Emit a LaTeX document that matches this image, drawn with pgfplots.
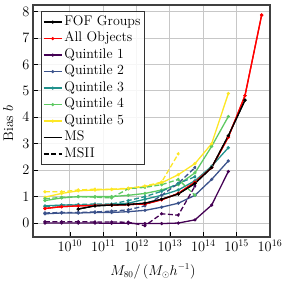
\documentclass[border=0pt]{standalone}
\usepackage{pgfplots}
\usepackage{pgfplotstable}
\pgfplotsset{compat=1.18}
\definecolor{vq1}{HTML}{440154}
\definecolor{vq2}{HTML}{3B528B}
\definecolor{vq3}{HTML}{21918C}
\definecolor{vq4}{HTML}{5EC962}
\definecolor{vq5}{HTML}{FDE725}
\pgfplotstableread{
m        all   fof   q1    q2    q3    q4    q5
1.778e9  0.55  nan   0.00  0.35  0.65  0.85  0.98
5.623e9  0.62  nan   0.00  0.38  0.68  0.95  1.12
1.778e10 0.65  0.53  0.00  0.38  0.68  1.00  1.22
5.623e10 0.67  0.65  0.00  0.40  0.68  1.00  1.25
1.778e11 0.68  0.68  -0.01 0.40  0.70  1.00  1.27
5.623e11 0.70  0.70  -0.01 0.43  0.75  1.05  1.30
1.778e12 0.72  0.75  -0.02 0.48  0.90  1.12  1.38
5.623e12 0.88  0.90  -0.02 0.60  1.05  1.25  1.52
1.778e13 1.12  1.10  0.00  0.75  1.25  1.45  1.83
5.623e13 1.55  1.50  0.12  1.05  1.60  1.90  2.25
1.778e14 2.10  2.10  0.68  1.65  2.15  2.90  3.00
5.623e14 3.25  3.30  1.95  2.35  2.85  4.03  4.90
1.778e15 4.82  4.65  nan   nan   nan   nan   nan
5.623e15 7.87  nan   nan   nan   nan   nan   nan
}\ms
\pgfplotstableread{
m        q1    q2    q3    q4    q5
1.778e9  0.05  0.38  0.62  0.92  1.18
5.623e9  0.05  0.40  0.68  0.97  1.18
1.778e10 0.05  0.40  0.70  1.00  1.25
5.623e10 0.04  0.42  0.72  0.98  1.28
1.778e11 0.04  0.45  0.72  0.95  1.28
5.623e11 0.03  0.50  0.85  1.30  1.32
1.778e12 -0.10 0.65  1.00  1.35  1.40
5.623e12 0.35  1.05  1.20  1.45  1.55
1.778e13 0.30  1.50  1.50  1.65  2.62
5.623e13 1.40  2.10  1.75  1.05  nan
}\msii
\begin{document}
\begin{tikzpicture}
\begin{axis}[
  scale only axis, width=237bp, height=232bp,
  xmode=log, xmin=7.76e8, xmax=1e16, ymin=-0.53, ymax=8.25,
  xtick={1e10,1e11,1e12,1e13,1e14,1e15,1e16},
  ytick={0,1,2,3,4,5,6,7,8},
  xminorticks=false,
  grid=major, grid style={black!22, line width=1pt},
  tick align=inside, tick pos=left, major tick length=5pt,
  tick style={black, line width=0.8pt},
  axis line style={line width=1.2pt, black!75},
  every tick label/.style={font=\fontsize{14}{16}\selectfont},
  xticklabel style={inner xsep=0.5bp, inner ysep=0.5bp, yshift=-2.5bp},
  label style={font=\fontsize{14}{16}\selectfont},
  xlabel={$M_{80}/\left(M_\odot h^{-1}\right)$},
  ylabel={Bias $b$},
  xlabel style={at={(axis description cs:0.506,-0.148)}, anchor=center, inner sep=0pt, font=\fontsize{13.5}{15}\selectfont},
  ylabel style={at={(axis description cs:-0.104,0.49)}, anchor=center},
  unbounded coords=jump,
  every axis plot/.append style={line width=1.3pt, mark=*, mark size=0.9pt},
  legend cell align=left,
  legend style={at={(0.032,0.975)}, anchor=north west, font=\fontsize{14}{16}\selectfont,
    draw=black!80, line width=1.1pt, fill=white, fill opacity=0.85, text opacity=1,
    row sep=0bp, inner xsep=2bp, inner ysep=2.5bp,
    nodes={inner xsep=2bp, inner ysep=1.8bp, text height=9.6bp, text depth=3.3bp}},
  legend image code/.code={\draw[line width=1.3pt, #1, mark size=0.9pt] (0bp,0bp) -- (18bp,0bp) plot coordinates {(9bp,0bp)};},
]
\addplot[black] table[x=m, y=fof] {\ms};
\addlegendentry{FOF Groups}
\addplot[red] table[x=m, y=all] {\ms};
\addlegendentry{All Objects}
\addplot[vq1] table[x=m, y=q1] {\ms};
\addlegendentry{Quintile 1}
\addplot[vq2] table[x=m, y=q2] {\ms};
\addlegendentry{Quintile 2}
\addplot[vq3] table[x=m, y=q3] {\ms};
\addlegendentry{Quintile 3}
\addplot[vq4] table[x=m, y=q4] {\ms};
\addlegendentry{Quintile 4}
\addplot[vq5] table[x=m, y=q5] {\ms};
\addlegendentry{Quintile 5}
\addlegendimage{black, solid, no marks}
\addlegendentry{MS}
\addlegendimage{black, dash pattern=on 5pt off 2.5pt, no marks}
\addlegendentry{MSII}
\addplot[vq1, dash pattern=on 5pt off 2.5pt, forget plot] table[x=m, y=q1] {\msii};
\addplot[vq2, dash pattern=on 5pt off 2.5pt, forget plot] table[x=m, y=q2] {\msii};
\addplot[vq3, dash pattern=on 5pt off 2.5pt, forget plot] table[x=m, y=q3] {\msii};
\addplot[vq4, dash pattern=on 5pt off 2.5pt, forget plot] table[x=m, y=q4] {\msii};
\addplot[vq5, dash pattern=on 5pt off 2.5pt, forget plot] table[x=m, y=q5] {\msii};
\addplot[red, forget plot] table[x=m, y=all] {\ms};
\addplot[black, forget plot] table[x=m, y=fof] {\ms};
\coordinate (bbA) at (axis description cs:-0.139,-0.19);
\coordinate (bbB) at (axis description cs:1.076,1.0216);
\end{axis}
\pgfresetboundingbox
\useasboundingbox (bbA) rectangle (bbB);
\end{tikzpicture}
\end{document}
